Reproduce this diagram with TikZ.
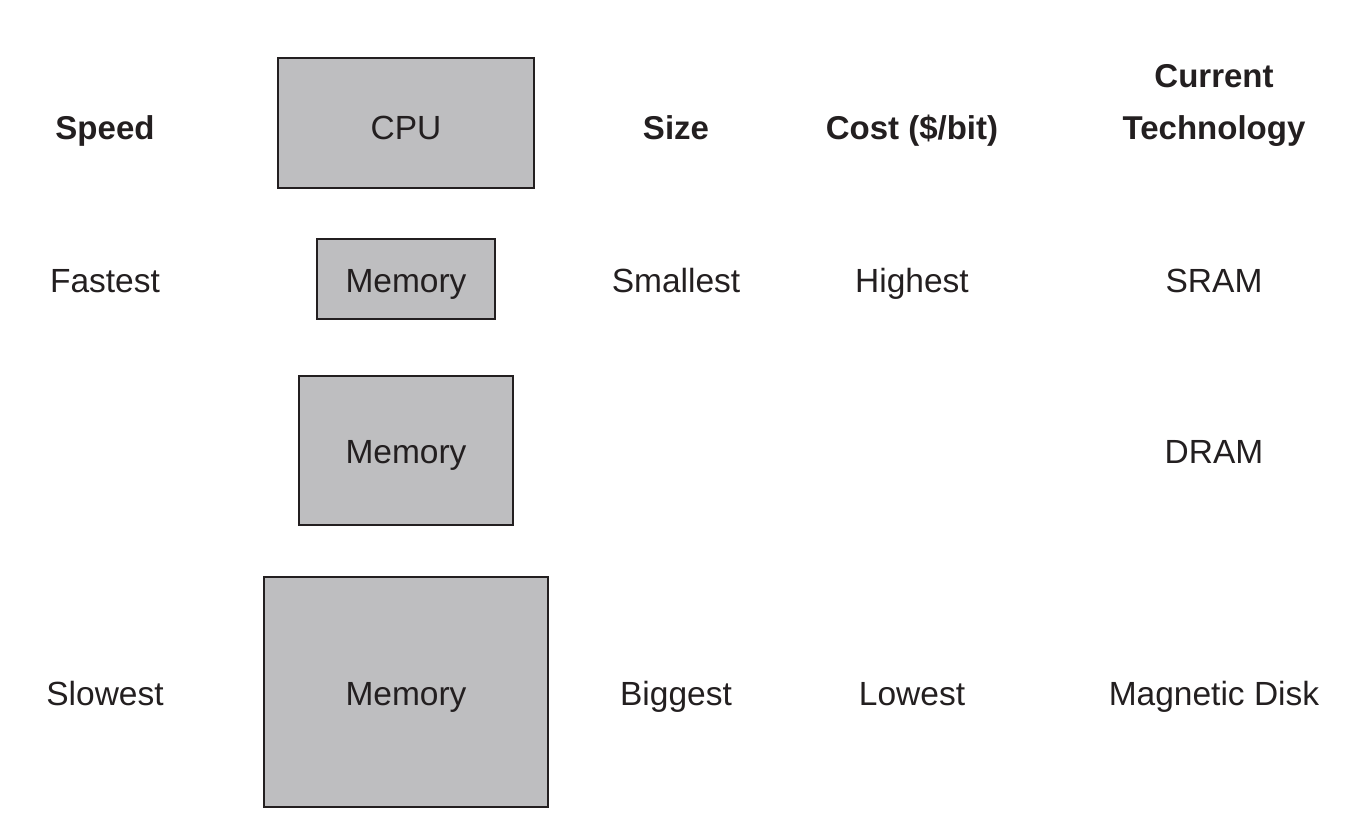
\documentclass[tikz,border=0pt]{standalone}
\usepackage{fontspec}
\setmainfont{Liberation Sans}
\usetikzlibrary{positioning}
\definecolor{boxgray}{RGB}{190,190,192}
\definecolor{inkblack}{RGB}{35,31,32}
\tikzstyle{level} = [draw=inkblack, fill=boxgray, line width=2pt, rectangle, inner sep=0pt, text=inkblack]
\tikzstyle{label} = [anchor=base, inner sep=0pt, text=inkblack]
\tikzstyle{head} = [label, font=\bfseries\fontsize{33}{40}\selectfont]

\begin{document}
\begin{tikzpicture}[x=1pt, y=-1pt, font=\fontsize{33.5}{40}\selectfont]
    \useasboundingbox (0,0) rectangle (1367,837);
    % memory hierarchy boxes
    \node [level, minimum width=256pt, minimum height=130pt] (cpu) at (406,123) {};
    \node [level, minimum width=178pt, minimum height=80pt] (mem-top) at (406,279) {};
    \node [level, minimum width=214pt, minimum height=149pt] (mem-mid) at (406,450.5) {};
    \node [level, minimum width=284pt, minimum height=230pt] (mem-bot) at (406,692) {};
    \node [label] (cpu-text) at (406,140) {CPU};
    \node [label] (mem-top-text) at (406,292) {Memory};
    \node [label] (mem-mid-text) at (406,463.5) {Memory};
    \node [label] (mem-bot-text) at (406,705) {Memory};

    % column headings
    \node [head] (speed) at (105,139.7) {Speed};
    \node [head] (size) at (676,139.7) {Size};
    \node [head] (cost) at (912,139.7) {Cost (\$/bit)};
    \node [head] (tech-a) at (1214,87.7) {Current};
    \node [head] (tech-b) at (1214,139.7) {Technology};

    % top row
    \node [label] (fastest) at (105,292) {Fastest};
    \node [label] (smallest) at (676,292) {Smallest};
    \node [label] (highest) at (912,292) {Highest};
    \node [label] (sram) at (1214,292) {SRAM};

    % middle row
    \node [label] (dram) at (1214,463.5) {DRAM};

    % bottom row
    \node [label] (slowest) at (105,705) {Slowest};
    \node [label] (biggest) at (676,705) {Biggest};
    \node [label] (lowest) at (912,705) {Lowest};
    \node [label] (disk) at (1214,705) {Magnetic Disk};
\end{tikzpicture}
\end{document}
